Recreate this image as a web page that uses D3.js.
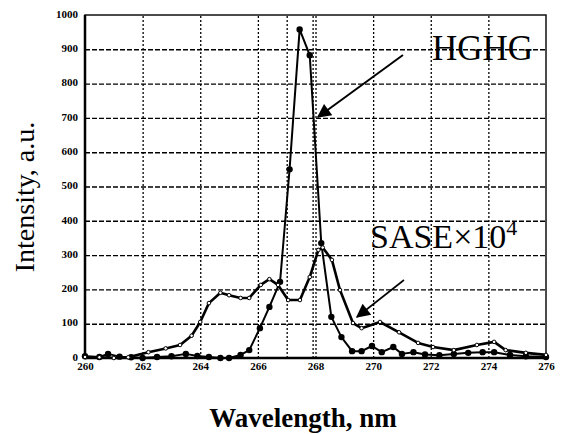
<!DOCTYPE html>
<html><head><meta charset="utf-8">
<script src="https://cdn.jsdelivr.net/npm/d3@7"></script>
<style>body{margin:0;background:#fff;}svg{display:block;}</style>
</head><body><svg id="c" width="563" height="434"></svg>
<script>
// ---- data ----
const xTicks = [260,262,264,266,268,270,272,274,276];
const yTicks = [0,100,200,300,400,500,600,700,800,900,1000];
const extraLines = [267.0, 267.9];
const hghgX = [260,260.5,260.8,261.2,261.6,262,262.5,263,263.5,263.9,264.3,264.7,265,265.4,265.7,266.07,266.4,266.77,267.1,267.45,267.8,268.2,268.55,268.9,269.27,269.6,269.96,270.3,270.7,271,271.4,271.8,272.3,272.8,273.3,273.8,274.2,274.75,275.3,276];
const hghgY = [5,3,12,4,2,0,3,5,12,6,3,0,0,9,23,87,149,222,550,958,883,335,120,61,20,20,35,17,32,12,17,10,8,12,15,17,17,9,5,3];
const saseX = [260,260.5,261,261.5,262.2,262.8,263.3,263.7,264,264.3,264.7,265,265.4,265.7,266.1,266.4,266.7,267.05,267.46,267.8,268.1,268.25,268.57,268.85,269.3,269.6,270.24,270.9,271.56,272.08,272.8,273.6,274.2,274.6,275.3,276];
const saseY = [3,2,0,2,17,28,38,65,105,160,190,183,175,175,213,230,213,169,169,236,315,322,286,198,102,87,105,75,44,32,23,38,47,23,15,9];
const labels = {y:"Intensity, a.u.", x:"Wavelength, nm", hghg:"HGHG", sase:"SASE×10", sup:"4"};

const svg = d3.select("#c");
const x = d3.scaleLinear().domain([260,276]).range([85,546]);
const y = d3.scaleLinear().domain([0,1000]).range([358,15]);
const serif = "'Liberation Serif','Times New Roman',serif";
const W = x(276) - x(260), H = y(0) - y(1000);

// grid via axis ticks
const gy = svg.append("g").attr("transform",`translate(${x(260)},0)`)
  .call(d3.axisLeft(y).tickValues(yTicks.slice(1,-1)).tickSize(-W).tickFormat(""));
gy.select(".domain").remove();
gy.selectAll(".tick line").attr("stroke","#000").attr("stroke-width",1.4).attr("stroke-dasharray","5,2");
const gx = svg.append("g").attr("transform",`translate(0,${y(0)})`)
  .call(d3.axisBottom(x).tickValues(xTicks.slice(1,-1).concat(extraLines)).tickSize(-H).tickFormat(""));
gx.select(".domain").remove();
gx.selectAll(".tick line").attr("stroke","#000").attr("stroke-width",1.3).attr("stroke-dasharray","2,2");

// frame
svg.append("rect").attr("x",x(260)).attr("y",y(1000)).attr("width",W).attr("height",H)
  .attr("fill","none").attr("stroke","#111").attr("stroke-width",1.5);
svg.append("line").attr("x1",x(260)).attr("x2",x(260)).attr("y1",y(0)).attr("y2",y(1000)).attr("stroke","#000").attr("stroke-width",2.5);
svg.append("line").attr("x1",x(260)).attr("x2",x(276)).attr("y1",y(0)).attr("y2",y(0)).attr("stroke","#000").attr("stroke-width",2.5);

// axes labels
const ax = svg.append("g").attr("transform",`translate(0,${y(0)})`)
  .call(d3.axisBottom(x).tickValues(xTicks).tickFormat(d3.format("d")).tickSize(0).tickPadding(4));
ax.select(".domain").remove();
ax.selectAll("text").attr("font-family",serif).attr("font-weight","bold").attr("font-size",11).attr("fill","#000");
const ay = svg.append("g").attr("transform",`translate(${x(260)},0)`)
  .call(d3.axisLeft(y).tickValues(yTicks).tickFormat(d3.format("d")).tickSize(0).tickPadding(7));
ay.select(".domain").remove();
ay.selectAll("text").attr("font-family",serif).attr("font-weight","bold").attr("font-size",11).attr("fill","#000").attr("dy","0.2em");

// curves
const line = d3.line().x(d=>x(d[0])).y(d=>y(d[1]));
const hghg = hghgX.map((v,i)=>[v,hghgY[i]]);
const sase = saseX.map((v,i)=>[v,saseY[i]]);
svg.append("path").datum(sase).attr("d",line).attr("fill","none").attr("stroke","#000").attr("stroke-width",2.6).attr("stroke-linejoin","round");
svg.append("path").datum(hghg).attr("d",line).attr("fill","none").attr("stroke","#000").attr("stroke-width",2).attr("stroke-linejoin","round");
svg.selectAll("circle.hm").data(hghg).enter().append("circle").attr("class","hm").attr("cx",d=>x(d[0])).attr("cy",d=>y(d[1])).attr("r",3.2).attr("fill","#000");
svg.selectAll("circle.sm").data(sase).enter().append("circle").attr("class","sm").attr("cx",d=>x(d[0])).attr("cy",d=>y(d[1])).attr("r",1.8).attr("fill","#fff").attr("stroke","#000").attr("stroke-width",1);

// annotations
const defs = svg.append("defs");
defs.append("marker").attr("id","ah").attr("viewBox","0 0 10 10").attr("refX",9).attr("refY",5)
  .attr("markerWidth",17).attr("markerHeight",14).attr("markerUnits","userSpaceOnUse").attr("orient","auto")
  .append("path").attr("d","M0,0 L10,5 L0,10 Z").attr("fill","#000");
svg.append("line").attr("x1",403).attr("y1",55).attr("x2",318).attr("y2",117).attr("stroke","#000").attr("stroke-width",2).attr("marker-end","url(#ah)");
svg.append("line").attr("x1",404).attr("y1",280).attr("x2",357).attr("y2",317).attr("stroke","#000").attr("stroke-width",1.6).attr("marker-end","url(#ah)");

svg.append("text").attr("x",432).attr("y",60).attr("font-family",serif).attr("font-size",35).attr("fill","#000").text(labels.hghg);
const st = svg.append("text").attr("x",370).attr("y",248).attr("font-family",serif).attr("font-size",34).attr("fill","#000").text(labels.sase);
st.append("tspan").attr("dy",-13).attr("font-size",22).text(labels.sup);

svg.append("text").attr("transform","translate(34,197) rotate(-90)").attr("text-anchor","middle")
  .attr("font-family",serif).attr("font-size",28).attr("fill","#000").text(labels.y);
svg.append("text").attr("x",303).attr("y",427).attr("text-anchor","middle")
  .attr("font-family",serif).attr("font-weight","bold").attr("font-size",27).attr("fill","#000").text(labels.x);
</script></body></html>
